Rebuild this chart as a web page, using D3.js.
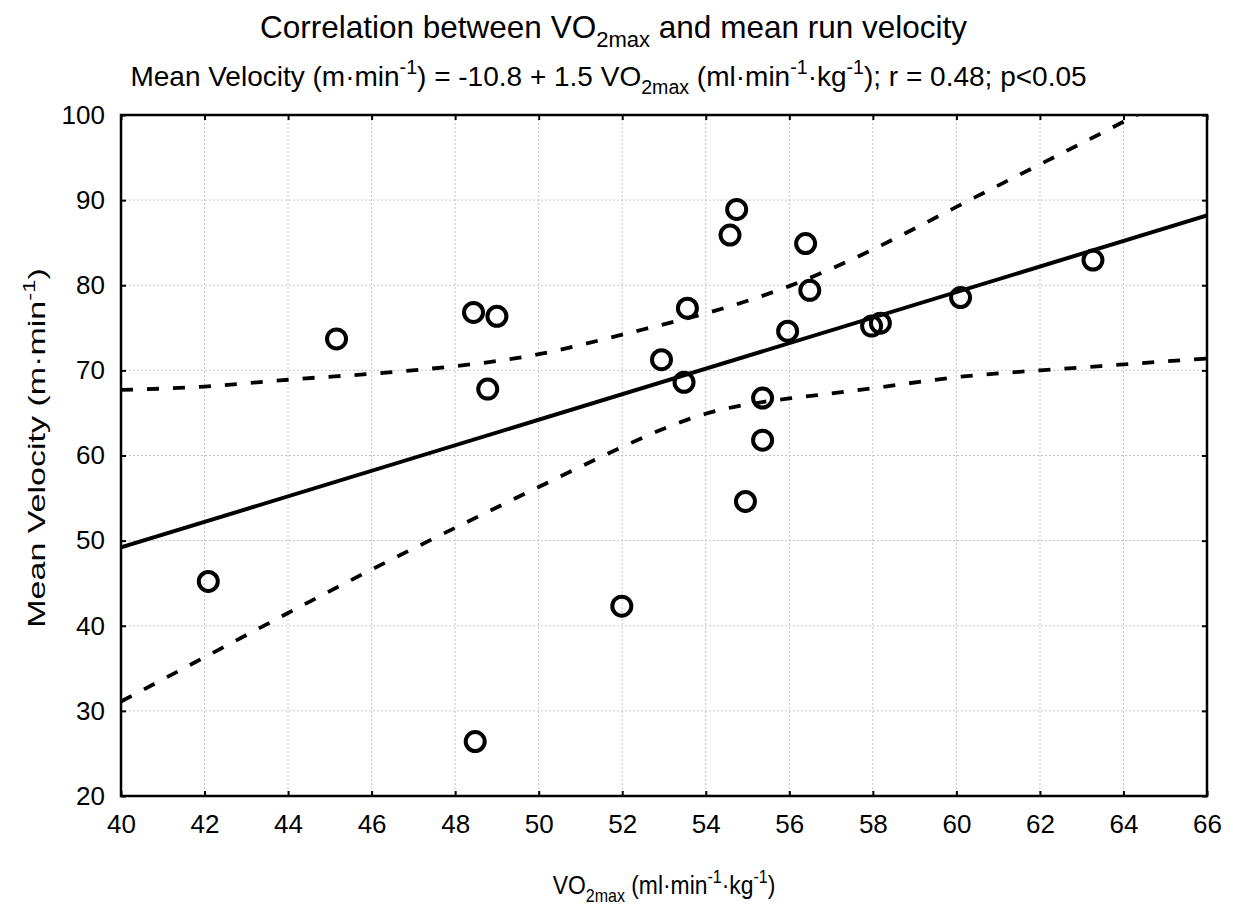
<!DOCTYPE html>
<html>
<head>
<meta charset="utf-8">
<script src="https://cdn.jsdelivr.net/npm/d3@7"></script>
<style>
  body { margin: 0; background: #fff; }
  svg { font-family: 'Liberation Sans', Arial, sans-serif; }
  text { white-space: pre; }
</style>
</head>
<body>
<svg id="chart"></svg>
<script>
// points
const vo2 = [42.09, 45.16, 48.44, 49.0, 48.78, 48.48, 51.99, 52.94, 53.48, 53.56, 54.58,
  54.74, 54.95, 55.36, 55.36, 55.96, 56.39, 56.49, 57.97, 58.18, 60.1, 63.27]
const velocity = [45.2, 73.7, 76.8, 76.35, 67.8, 26.4, 42.3, 71.25, 68.6, 77.3, 85.9,
  88.9, 54.6, 66.75, 61.8, 74.6, 84.9, 79.4, 75.2, 75.55, 78.56, 82.96]

// regression from the subtitle
const intercept = -10.8
const slope = 1.5

// 95% confidence band, read at every x tick
const bandX = [40, 42, 44, 46, 48, 50, 52, 54, 56, 58, 60, 62, 64, 66]
const bandUpper = [67.7, 68.1, 68.9, 69.6, 70.5, 71.9, 74.2, 76.7, 79.9, 84.2, 89.2, 94.2, 99.2, 104.4]
const bandLower = [31.1, 36.3, 41.5, 46.6, 51.5, 56.3, 61.0, 64.9, 66.7, 67.9, 69.2, 70.0, 70.7, 71.4]

const xTicks = [40, 42, 44, 46, 48, 50, 52, 54, 56, 58, 60, 62, 64, 66]
const yTicks = [20, 30, 40, 50, 60, 70, 80, 90, 100]

const W = 1233
const H = 907
const plotLeft = 121
const plotRight = 1207
const plotTop = 115
const plotBottom = 796

const svg = d3.select('#chart')
  .attr('width', W)
  .attr('height', H)

const x = d3.scaleLinear().domain([40, 66]).range([plotLeft, plotRight])
const y = d3.scaleLinear().domain([20, 100]).range([plotBottom, plotTop])

svg.append('defs')
  .append('clipPath')
  .attr('id', 'plot-clip')
  .append('rect')
  .attr('x', plotLeft)
  .attr('y', plotTop)
  .attr('width', plotRight - plotLeft)
  .attr('height', plotBottom - plotTop)

// rich text: [string, 'sub' | 'sup' | undefined]
const addRich = (text, parts, size) => {
  let shift = 0
  parts.forEach(([str, kind]) => {
    const target = kind === 'sub' ? size * 0.3 : kind === 'sup' ? -size * 0.42 : 0
    text.append('tspan')
      .attr('dy', target - shift)
      .attr('font-size', kind ? size * 0.7 : size)
      .text(str)
    shift = target
  })
}

// grid
const grid = svg.append('g').classed('grid', true)
grid.selectAll('line.gx')
  .data(xTicks.slice(1, -1))
  .enter()
  .append('line')
  .attr('x1', (d) => x(d))
  .attr('x2', (d) => x(d))
  .attr('y1', plotTop)
  .attr('y2', plotBottom)
grid.selectAll('line.gy')
  .data(yTicks.slice(1, -1))
  .enter()
  .append('line')
  .attr('x1', plotLeft)
  .attr('x2', plotRight)
  .attr('y1', (d) => y(d))
  .attr('y2', (d) => y(d))
grid.selectAll('line')
  .attr('stroke', '#c4c4c4')
  .attr('stroke-width', 1)
  .attr('stroke-dasharray', '2,2')

const plot = svg.append('g').attr('clip-path', 'url(#plot-clip)')

// confidence band
const bandLine = d3.line()
  .x((d) => x(d[0]))
  .y((d) => y(d[1]))
  .curve(d3.curveNatural)
;[bandUpper, bandLower].forEach((band) => {
  plot.append('path')
    .datum(bandX.map((v, i) => [v, band[i]]))
    .attr('d', bandLine)
    .attr('fill', 'none')
    .attr('stroke', '#000')
    .attr('stroke-width', 3.8)
    .attr('stroke-dasharray', '12,14')
})

// regression line
plot.append('line')
  .attr('x1', x(40))
  .attr('y1', y(intercept + slope * 40))
  .attr('x2', x(66))
  .attr('y2', y(intercept + slope * 66))
  .attr('stroke', '#000')
  .attr('stroke-width', 4)

// points
plot.selectAll('circle.pt')
  .data(vo2.map((v, i) => ({ x: v, y: velocity[i] })))
  .enter()
  .append('circle')
  .classed('pt', true)
  .attr('cx', (d) => x(d.x))
  .attr('cy', (d) => y(d.y))
  .attr('r', 9.5)
  .attr('fill', 'none')
  .attr('stroke', '#000')
  .attr('stroke-width', 4)

// axes with inner ticks on all four sides
const tickLen = 5
const axes = svg.append('g').classed('axes', true)
axes.append('g')
  .attr('transform', 'translate(0,' + plotBottom + ')')
  .call(d3.axisBottom(x).tickValues(xTicks).tickSizeInner(-tickLen).tickSizeOuter(0).tickPadding(19))
axes.append('g')
  .attr('transform', 'translate(0,' + plotTop + ')')
  .call(d3.axisTop(x).tickValues(xTicks).tickSizeInner(-tickLen).tickSizeOuter(0).tickFormat(''))
axes.append('g')
  .attr('transform', 'translate(' + plotLeft + ',0)')
  .call(d3.axisLeft(y).tickValues(yTicks).tickSizeInner(-tickLen).tickSizeOuter(0).tickPadding(16))
axes.append('g')
  .attr('transform', 'translate(' + plotRight + ',0)')
  .call(d3.axisRight(y).tickValues(yTicks).tickSizeInner(-tickLen).tickSizeOuter(0).tickFormat(''))
axes.selectAll('path.domain').remove()
axes.selectAll('g.tick line')
  .attr('stroke', '#000')
  .attr('stroke-width', 2)
axes.selectAll('g.tick text')
  .attr('font-family', "'Liberation Sans', Arial, sans-serif")
  .attr('font-size', 26)
  .attr('fill', '#000')

svg.append('rect')
  .attr('x', plotLeft)
  .attr('y', plotTop)
  .attr('width', plotRight - plotLeft)
  .attr('height', plotBottom - plotTop)
  .attr('fill', 'none')
  .attr('stroke', '#000')
  .attr('stroke-width', 2.5)

// titles
const title1 = svg.append('text')
  .attr('x', W / 2 - 3)
  .attr('y', 38)
  .attr('text-anchor', 'middle')
addRich(title1, [['Correlation between VO'], ['2max', 'sub'], [' and mean run velocity']], 31.5)

const title2 = svg.append('text')
  .attr('x', W / 2 - 8)
  .attr('y', 86)
  .attr('text-anchor', 'middle')
addRich(title2, [['Mean Velocity (m·min'], ['-1', 'sup'], [') = -10.8 + 1.5 VO'], ['2max', 'sub'],
  [' (ml·min'], ['-1', 'sup'], ['·kg'], ['-1', 'sup'], ['); r = 0.48; p<0.05']], 28)

// axis titles are drawn squeezed / stretched along their length like the original
const xTitle = svg.append('text')
  .attr('transform', 'translate(' + (plotLeft + plotRight) / 2 + ',894) scale(0.88,1)')
  .attr('text-anchor', 'middle')
addRich(xTitle, [['VO'], ['2max', 'sub'], [' (ml·min'], ['-1', 'sup'], ['·kg'], ['-1', 'sup'], [')']], 26)

const yTitle = svg.append('text')
  .attr('transform', 'translate(45,448) rotate(-90) scale(1.48,1)')
  .attr('text-anchor', 'middle')
addRich(yTitle, [['Mean Velocity (m·min'], ['-1', 'sup'], [')']], 23)
</script>
</body>
</html>
